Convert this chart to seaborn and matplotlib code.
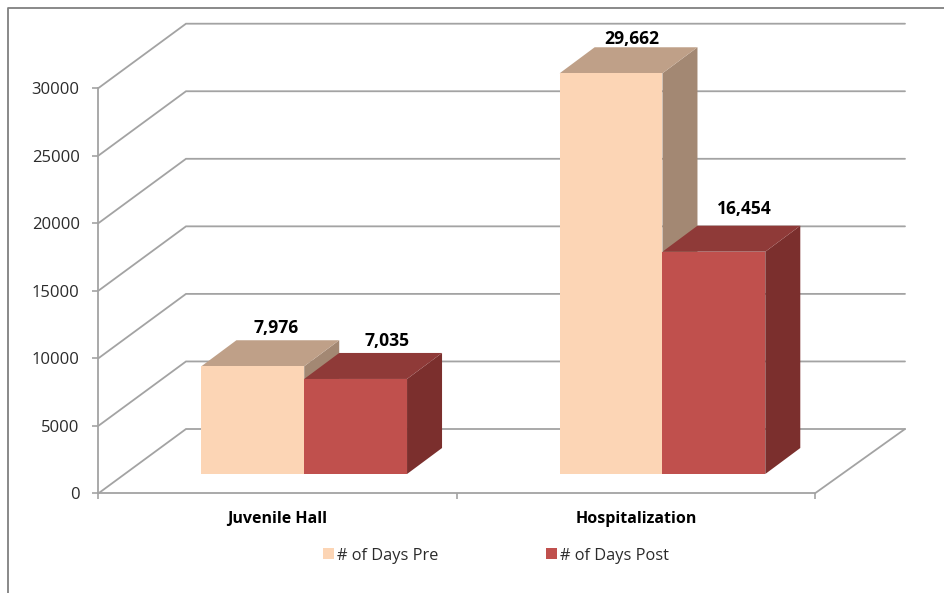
import matplotlib
matplotlib.use("Agg")
import matplotlib.pyplot as plt
from matplotlib.lines import Line2D
from matplotlib.patches import Polygon
from matplotlib.ticker import NullFormatter, FixedLocator
import pandas as pd
import seaborn as sns

categories = ["Juvenile Hall", "Hospitalization"]
series_names = ["# of Days Pre", "# of Days Post"]
days_pre = [7976, 29662]
days_post = [7035, 16454]
y_ticks = [0, 5000, 10000, 15000, 20000, 25000, 30000]

face_colors = ["#FCD5B5", "#C0504D"]
top_colors = ["#BFA088", "#8F3A38"]
side_colors = ["#A38873", "#7B2F2D"]
grid_color = "#A3A3A3"
text_color = "#2B2B2B"

sns.set_style("white")
plt.rcParams["font.family"] = ["Open Sans", "DejaVu Sans"]

W, H = 945, 593
fig = plt.figure(figsize=(W / 100, H / 100), dpi=100)

# Front plane of the pseudo-3D box, given in figure pixels
left, right, bottom, top = 98.5, 815.0, 493.3, 88.0
ax = fig.add_axes([left / W, 1 - bottom / H, (right - left) / W, (bottom - top) / H])

df = pd.DataFrame({
    "category": categories * 2,
    "series": [series_names[0]] * 2 + [series_names[1]] * 2,
    "days": days_pre + days_post,
})
sns.barplot(
    data=df, x="category", y="days", hue="series", order=categories,
    hue_order=series_names, palette=face_colors, width=0.574, gap=0,
    saturation=1, legend=False, ax=ax, linewidth=0,
)
ax.set_xlim(-0.5, 1.5)
ax.set_ylim(0, 30000)
ax.set_xlabel("")
ax.set_ylabel("")

px_x = 2.0 / (right - left)
px_y = 30000 / (bottom - top)

# Back wall and floor: each gridline runs back from the axis, then along the wall
wall_dx, wall_end_dx, wall_dy = 87.5 * px_x, 90 * px_x, 64.3 * px_y
for v in y_ticks:
    ax.plot([-0.5, -0.5 + wall_dx, 1.5 + wall_end_dx], [v, v + wall_dy, v + wall_dy],
            color=grid_color, lw=1.3, clip_on=False, zorder=1, solid_joinstyle="miter")
ax.plot([1.5 + wall_end_dx, 1.5], [wall_dy, 0], color=grid_color, lw=1.3, clip_on=False, zorder=1)

# Bars are pushed into the box, then given a top and a side face
shift_x, shift_y = 26.6 * px_x, 19.3 * px_y
depth_x, depth_y = 35 * px_x, 26 * px_y
bars = sorted(ax.patches, key=lambda b: b.get_x())
label_offsets = [(23.5, 38), (31, 38), (20.5, 34), (30.5, 43)]
values = [days_pre[0], days_post[0], days_pre[1], days_post[1]]
series_index = [0, 1, 0, 1]
z = 3
for bar, value, s, off in zip(bars, values, series_index, label_offsets):
    bar.set_x(bar.get_x() + shift_x)
    bar.set_y(shift_y)
    bar.set_clip_on(False)
    x0, x1 = bar.get_x(), bar.get_x() + bar.get_width()
    y0, y1 = shift_y, shift_y + value
    side = Polygon([(x1, y0), (x1 + depth_x, y0 + depth_y), (x1 + depth_x, y1 + depth_y), (x1, y1)],
                   closed=True, fc=side_colors[s], ec="none", clip_on=False, zorder=z)
    cap = Polygon([(x0, y1), (x1, y1), (x1 + depth_x, y1 + depth_y), (x0 + depth_x, y1 + depth_y)],
                  closed=True, fc=top_colors[s], ec="none", clip_on=False, zorder=z + 1)
    ax.add_patch(side)
    ax.add_patch(cap)
    bar.set_zorder(z + 2)
    ax.annotate(f"{value:,}", xy=((x0 + x1) / 2, y1), xytext=(off[0] * 0.72, off[1] * 0.72),
                textcoords="offset points", ha="center", va="center", fontsize=12.6,
                fontweight="bold", color="black", annotation_clip=False, zorder=20)
    z += 3

# Axis lines and ticks
sns.despine(ax=ax)
for name in ("left", "bottom"):
    ax.spines[name].set_color(grid_color)
    ax.spines[name].set_linewidth(1.3)
ax.set_yticks(y_ticks)
ax.set_yticklabels([str(v) for v in y_ticks])
ax.tick_params(axis="y", left=True, length=4, width=1.2, color=grid_color, pad=9.5,
               labelsize=12, labelcolor=text_color)
ax.set_xticks([0, 1])
ax.set_xticklabels(categories, fontweight="bold", fontsize=11.5, color="black")
ax.xaxis.set_minor_locator(FixedLocator([-0.5, 0.5, 1.5]))
ax.xaxis.set_minor_formatter(NullFormatter())
ax.tick_params(axis="x", which="major", length=0, pad=12.5)
ax.tick_params(axis="x", which="minor", bottom=True, length=4, width=1.2, color=grid_color)

# Legend beneath the plot
handles = [plt.Rectangle((0, 0), 1, 1, fc=c, ec="none") for c in face_colors]
fig.legend(handles, series_names, loc="center", bbox_to_anchor=(496 / W, 1 - 555.5 / H),
           ncol=2, frameon=False, fontsize=11.8, labelcolor=text_color,
           handlelength=0.68, handleheight=0.68, handletextpad=0.2, columnspacing=6.55)

# Chart frame: only its top and left edges are in view
fig.add_artist(Line2D([8.5 / W, 8.5 / W, 1], [0, 1 - 7.5 / H, 1 - 7.5 / H],
                      color="#808080", lw=1.3, transform=fig.transFigure))

fig.savefig("out.png", dpi=100)
